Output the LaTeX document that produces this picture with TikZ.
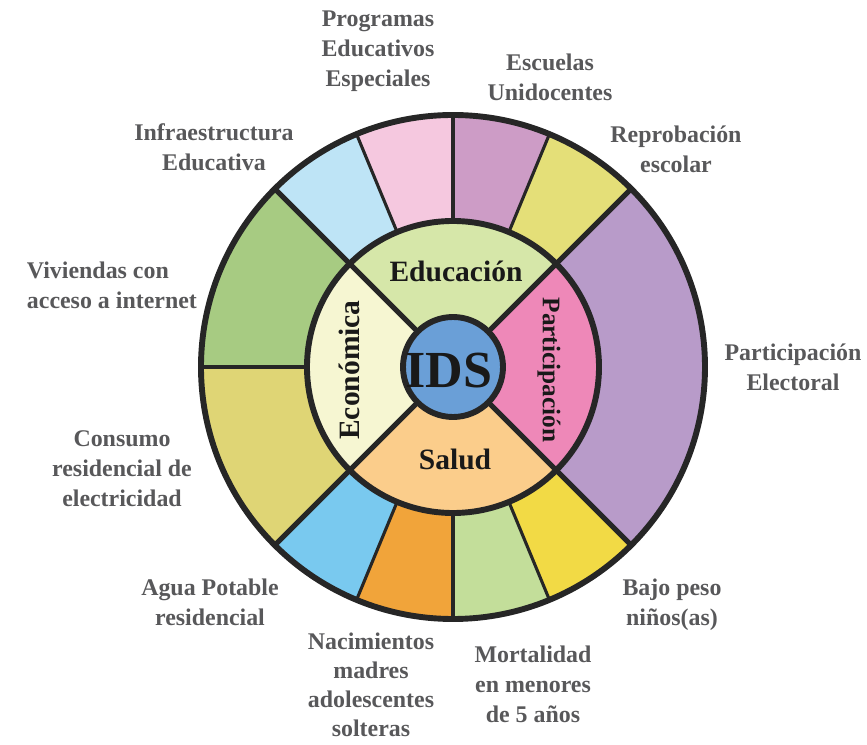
\documentclass[tikz,border=0pt]{standalone}
\usepackage{fontspec}
\setmainfont{Liberation Serif}
\definecolor{labelgrey}{HTML}{58585A}
\definecolor{reprobacion}{HTML}{E4DF78}
\definecolor{unidocentes}{HTML}{CD9CC6}
\definecolor{programas}{HTML}{F5C8DF}
\definecolor{infra}{HTML}{BEE4F6}
\definecolor{viviendas}{HTML}{A7CB82}
\definecolor{consumo}{HTML}{DFD575}
\definecolor{agua}{HTML}{79C9EF}
\definecolor{nacimientos}{HTML}{F1A43A}
\definecolor{mortalidad}{HTML}{C3DE9A}
\definecolor{bajopeso}{HTML}{F2DA45}
\definecolor{electoral}{HTML}{B89BC9}
\definecolor{educacion}{HTML}{D6E7A9}
\definecolor{participacion}{HTML}{EE88B8}
\definecolor{salud}{HTML}{FBCD8B}
\definecolor{economica}{HTML}{F6F6D2}
\definecolor{idsblue}{HTML}{6A9FD7}
\tikzset{ring/.style = {line width=4.2pt, draw=black!85},
         spoke/.style = {line width=3.6pt, draw=black!85},
         slit/.style = {line width=2.2pt, draw=black!85},
         outlabel/.style = {text=labelgrey, align=center,
                            font=\fontsize{17}{21.3}\selectfont\bfseries},
         inlabel/.style = {text=black!90, font=\fontsize{21}{25}\selectfont\bfseries}}

\begin{document}
\begin{tikzpicture}
    \useasboundingbox (-11.325,-9.45) rectangle (10.35,9.175);
    % outer ring
    \fill[reprobacion] (45:3.65) arc (45:67.5:3.65) -- (67.5:6.3) arc (67.5:45:6.3) -- cycle;
    \fill[unidocentes] (67.5:3.65) arc (67.5:90:3.65) -- (90:6.3) arc (90:67.5:6.3) -- cycle;
    \fill[programas] (90:3.65) arc (90:112.5:3.65) -- (112.5:6.3) arc (112.5:90:6.3) -- cycle;
    \fill[infra] (112.5:3.65) arc (112.5:135:3.65) -- (135:6.3) arc (135:112.5:6.3) -- cycle;
    \fill[viviendas] (135:3.65) arc (135:180:3.65) -- (180:6.3) arc (180:135:6.3) -- cycle;
    \fill[consumo] (180:3.65) arc (180:225:3.65) -- (225:6.3) arc (225:180:6.3) -- cycle;
    \fill[agua] (225:3.65) arc (225:247.5:3.65) -- (247.5:6.3) arc (247.5:225:6.3) -- cycle;
    \fill[nacimientos] (247.5:3.65) arc (247.5:270:3.65) -- (270:6.3) arc (270:247.5:6.3) -- cycle;
    \fill[mortalidad] (270:3.65) arc (270:292.5:3.65) -- (292.5:6.3) arc (292.5:270:6.3) -- cycle;
    \fill[bajopeso] (292.5:3.65) arc (292.5:315:3.65) -- (315:6.3) arc (315:292.5:6.3) -- cycle;
    \fill[electoral] (-45:3.65) arc (-45:45:3.65) -- (45:6.3) arc (45:-45:6.3) -- cycle;
    % middle ring
    \fill[educacion] (45:1.25) arc (45:135:1.25) -- (135:3.65) arc (135:45:3.65) -- cycle;
    \fill[economica] (135:1.25) arc (135:225:1.25) -- (225:3.65) arc (225:135:3.65) -- cycle;
    \fill[salud] (225:1.25) arc (225:315:1.25) -- (315:3.65) arc (315:225:3.65) -- cycle;
    \fill[participacion] (-45:1.25) arc (-45:45:1.25) -- (45:3.65) arc (45:-45:3.65) -- cycle;
    % separators
    \draw[slit] (67.5:3.65) -- (67.5:6.3);
    \draw[slit] (90:3.65) -- (90:6.3);
    \draw[slit] (112.5:3.65) -- (112.5:6.3);
    \draw[slit] (180:3.65) -- (180:6.3);
    \draw[slit] (247.5:3.65) -- (247.5:6.3);
    \draw[slit] (270:3.65) -- (270:6.3);
    \draw[slit] (292.5:3.65) -- (292.5:6.3);
    \draw[spoke] (45:1.25) -- (45:6.3);
    \draw[spoke] (135:1.25) -- (135:6.3);
    \draw[spoke] (225:1.25) -- (225:6.3);
    \draw[spoke] (315:1.25) -- (315:6.3);
    \draw[ring] (0,0) circle (6.3);
    \draw[ring] (0,0) circle (3.65);
    \draw[ring, fill=idsblue] (0,0) circle (1.25);
    % inner labels
    \node[inlabel, font=\fontsize{37}{40}\selectfont\bfseries] (ids) at (-0.1,-0.08) {IDS};
    \node[inlabel] (educ) at (0.075,2.4) {Educación};
    \node[inlabel] (salud) at (0.05,-2.3) {Salud};
    \node[inlabel, rotate=90] (econ) at (-2.6,-0.075) {Económica};
    \node[inlabel, rotate=-90, font=\fontsize{18}{22}\selectfont\bfseries] (part) at (2.4,-0.075) {Participación};
    % outer labels
    \node[outlabel] (progr) at (-1.875,7.9) {Programas\\Educativos\\Especiales};
    \node[outlabel] (escu) at (2.425,7.25) {Escuelas\\Unidocentes};
    \node[outlabel] (repro) at (5.575,5.45) {Reprobación\\escolar};
    \node[outlabel] (infr) at (-5.975,5.5) {Infraestructura\\Educativa};
    \node[outlabel, align=left, anchor=west] (vivi) at (-10.775,2.05) {Viviendas con\\acceso a internet};
    \node[outlabel] (cons) at (-8.275,-2.55) {Consumo\\residencial de\\electricidad};
    \node[outlabel] (agua) at (-6.075,-5.875) {Agua Potable\\residencial};
    \node[outlabel, font=\fontsize{17}{20.6}\selectfont\bfseries] (naci) at (-2.05,-7.95) {Nacimientos\\madres\\adolescentes\\solteras};
    \node[outlabel] (mort) at (2.0,-7.925) {Mortalidad\\en menores\\de 5 años};
    \node[outlabel] (bajo) at (5.475,-5.94) {Bajo peso\\niños(as)};
    \node[outlabel] (elect) at (8.5,0) {Participación\\Electoral};
\end{tikzpicture}
\end{document}
